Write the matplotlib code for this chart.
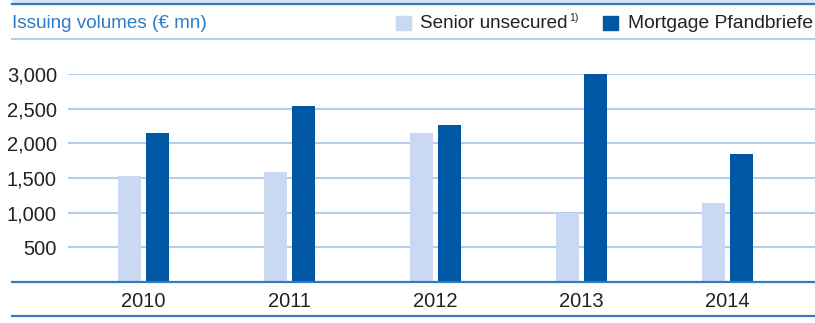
import matplotlib
matplotlib.use('Agg')
import matplotlib.pyplot as plt
from matplotlib.lines import Line2D
from matplotlib.patches import Rectangle
import numpy as np

years = ['2010', '2011', '2012', '2013', '2014']
senior_unsecured = [1530, 1590, 2150, 1000, 1140]
mortgage_pfandbriefe = [2150, 2540, 2265, 3000, 1850]
yticks = [500, 1000, 1500, 2000, 2500, 3000]

light = '#c8d9f1'
dark = '#0057a3'
grid_col = '#b5cdec'
line_col = '#3579be'
title_col = '#2f7cc4'
text_col = '#222222'

plt.rcParams['font.family'] = ['Liberation Sans', 'DejaVu Sans']

W, H = 815, 323
fig = plt.figure(figsize=(W / 100, H / 100), dpi=100)

# plot area in pixels: x 68..815, y 74..282
ax = fig.add_axes([68 / W, (H - 282) / H, (W - 68) / W, (282 - 74) / H])

x = np.arange(len(years))
bw = 0.1575
off = 0.096
ax.bar(x - off, senior_unsecured, width=bw, color=light, zorder=3)
ax.bar(x + off, mortgage_pfandbriefe, width=bw, color=dark, zorder=3)

ax.set_xlim(-0.517, 4.599)
ax.set_ylim(0, 3000)
ax.set_yticks(yticks)
ax.set_yticklabels([f'{v:,}' for v in yticks], fontsize=14.5, color=text_col)
ax.set_xticks(x)
ax.set_xticklabels(years, fontsize=14.5, color=text_col)
ax.tick_params(axis='both', length=0)
ax.tick_params(axis='y', pad=8)
ax.tick_params(axis='x', pad=7)
ax.yaxis.grid(True, color=grid_col, linewidth=1.5, zorder=0)
for s in ax.spines.values():
    s.set_visible(False)


def hline(ypix, color, lw, x0=12):
    fig.add_artist(Line2D([x0 / W, 1], [1 - ypix / H, 1 - ypix / H],
                          color=color, linewidth=lw, transform=fig.transFigure))


# frame lines
fig.add_artist(Rectangle((12 / W, 1 - 4 / H), 1, 4 / H, color='#dbe6f5',
                         transform=fig.transFigure, zorder=0))
hline(4, line_col, 1.6)
hline(39, grid_col, 1.5)
hline(282, line_col, 1.6)
hline(316, line_col, 1.6)

# title
fig.text(12 / W, 1 - 23 / H, 'Issuing volumes (€ mn)', fontsize=13.6,
         color=title_col, va='center', ha='left')

# legend
fig.add_artist(Rectangle((396 / W, 1 - 30 / H), 15 / W, 14 / H, color=light,
                         transform=fig.transFigure))
fig.text(420 / W, 1 - 23 / H, 'Senior unsecured', fontsize=13.6,
         color=text_col, va='center', ha='left')
fig.text(569 / W, 1 - 18 / H, '1)', fontsize=7.5, color=text_col,
         va='center', ha='left')
fig.add_artist(Rectangle((603 / W, 1 - 30 / H), 15 / W, 14 / H, color=dark,
                         transform=fig.transFigure))
fig.text(628 / W, 1 - 23 / H, 'Mortgage Pfandbriefe', fontsize=13.9,
         color=text_col, va='center', ha='left')

fig.savefig('out.png', dpi=100)
